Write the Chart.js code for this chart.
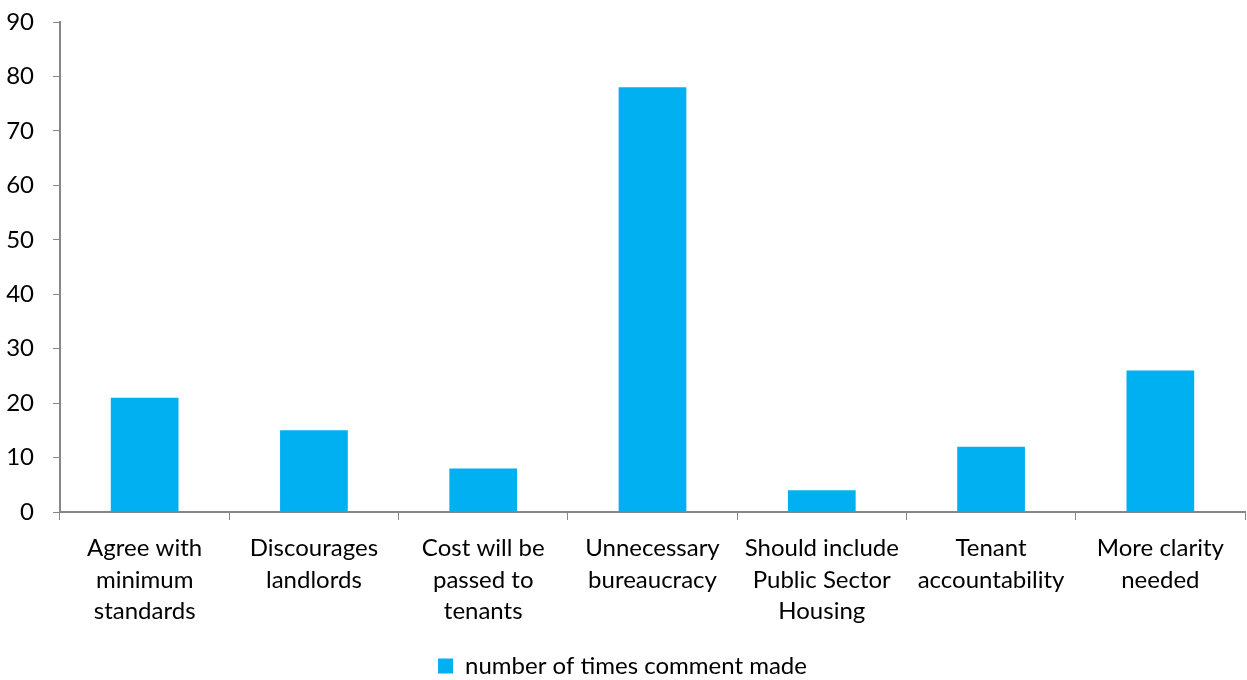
<!DOCTYPE html>
<html>
<head>
<meta charset="utf-8">
<script src="https://cdn.jsdelivr.net/npm/chart.js@4"></script>
<style>
  html, body { margin: 0; padding: 0; background: #fff; }
  #wrap { width: 1247px; height: 680px; }
</style>
</head>
<body>
<div id="wrap"><canvas id="myChart"></canvas></div>
<script>
const categorias = [
    ["Agree with", "minimum", "standards"],
    ["Discourages", "landlords"],
    ["Cost will be", "passed to", "tenants"],
    ["Unnecessary", "bureaucracy"],
    ["Should include", "Public Sector", "Housing"],
    ["Tenant", "accountability"],
    ["More clarity", "needed"]
];
const comentarios = [21, 15, 8, 78, 4, 12, 26];
const etiquetaSerie = "number of times comment made";
const ejeMax = 90;
const ejePaso = 10;

const gris = "#868686";
const fuente = { family: "Lato, 'Open Sans', sans-serif", size: 24, lineHeight: 1.3 };

const canvas = document.getElementById("myChart");

const myChart = new Chart(canvas, {
    type: "bar",
    data: {
        labels: categorias,
        datasets: [
            {
                label: etiquetaSerie,
                data: comentarios,
                backgroundColor: "#00B0F0",
                borderWidth: 0,
                barPercentage: 0.4,
                categoryPercentage: 1,
            },
        ],
    },
    options: {
        responsive: true,
        maintainAspectRatio: false,
        animation: false,
        layout: { padding: { top: 0, right: 2, left: 0, bottom: -8 } },
        plugins: {
            tooltip: { enabled: false },
            legend: {
                position: "bottom",
                labels: {
                    color: "#000",
                    font: { family: fuente.family, size: 24 },
                    boxWidth: 15,
                    boxHeight: 15,
                    padding: 4,
                },
            },
        },
        scales: {
            x: {
                afterFit: (scale) => { scale.height = 138; },
                grid: {
                    offset: true,
                    drawOnChartArea: false,
                    drawTicks: true,
                    tickLength: 8,
                    color: gris,
                },
                border: { color: gris, width: 2 },
                ticks: {
                    color: "#000",
                    font: fuente,
                    maxRotation: 0,
                    autoSkip: false,
                    padding: 13,
                },
            },
            y: {
                min: 0,
                max: ejeMax,
                afterFit: (scale) => {
                    scale.width = 60;
                    scale.paddingTop = 22;
                    scale.paddingBottom = 10;
                },
                grid: {
                    drawOnChartArea: false,
                    drawTicks: true,
                    tickLength: 7,
                    color: gris,
                },
                border: { color: gris, width: 2 },
                ticks: {
                    stepSize: ejePaso,
                    color: "#000",
                    font: { family: fuente.family, size: 24 },
                    padding: 19,
                },
            },
        },
    },
});
</script>
</body>
</html>
